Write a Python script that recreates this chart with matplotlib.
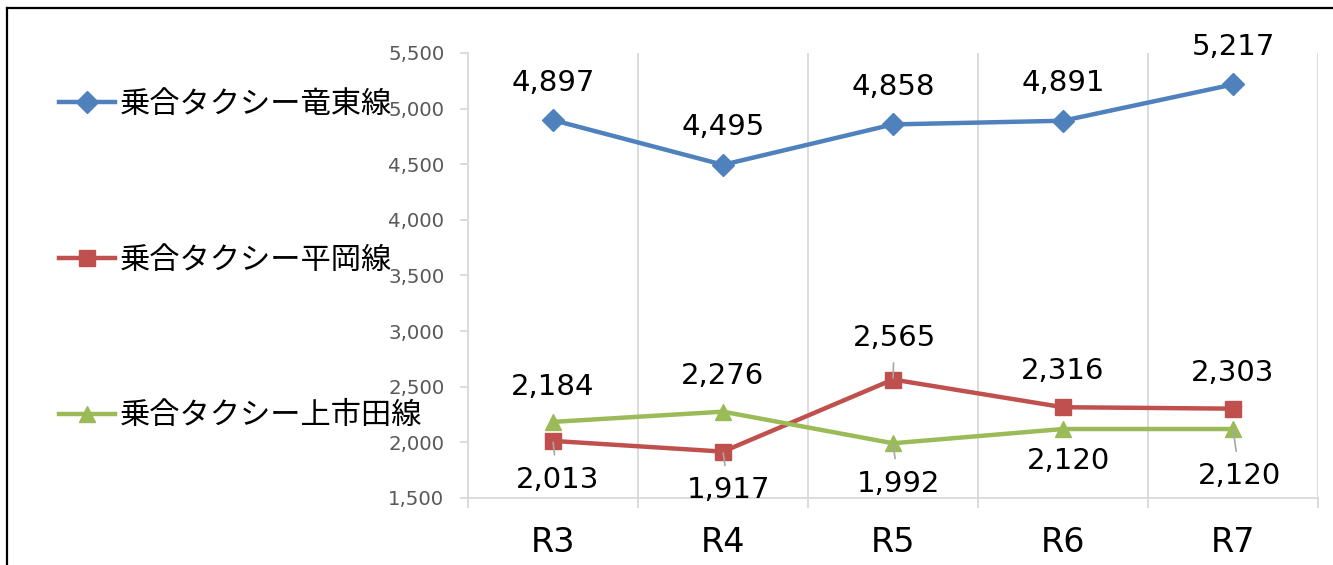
import matplotlib.pyplot as plt
from matplotlib.lines import Line2D
from matplotlib.ticker import FuncFormatter, FixedLocator

plt.rcParams['font.family'] = ['Noto Sans CJK JP', 'DejaVu Sans']

years = ['R3', 'R4', 'R5', 'R6', 'R7']
ryuto = [4897, 4495, 4858, 4891, 5217]
hiraoka = [2013, 1917, 2565, 2316, 2303]
kamiichida = [2184, 2276, 1992, 2120, 2120]
series_names = ['乗合タクシー竜東線', '乗合タクシー平岡線', '乗合タクシー上市田線']

colors = ['#4F81BD', '#C0504D', '#9BBB59']
markers = ['D', 's', '^']
msizes = [11, 11, 12]
# label offsets in points (dx, dy) and whether a leader line is drawn
offsets = [
    [(0, 27), (0, 27), (0, 27), (0, 27), (0, 27)],
    [(3, -28), (4, -28), (1, 30), (0, 26), (0, 26)],
    [(0, 25), (0, 26), (4, -29), (4, -23), (5, -34)],
]
leaders = [
    [False] * 5,
    [True, True, True, False, False],
    [False, False, True, False, True],
]
num_font = 'DejaVu Sans'

fig = plt.figure(figsize=(13.33, 5.65), dpi=100)
ax = fig.add_axes([0.3511, 0.1186, 0.6376, 0.7876])

x = list(range(len(years)))
handles = []
for i, vals in enumerate([ryuto, hiraoka, kamiichida]):
    h, = ax.plot(x, vals, color=colors[i], marker=markers[i], markersize=msizes[i],
                 linewidth=3.2, label=series_names[i], zorder=3)
    handles.append(h)
    for j, v in enumerate(vals):
        dx, dy = offsets[i][j]
        ap = None
        if leaders[i][j]:
            ap = dict(arrowstyle='-', color='#a6a6a6', lw=1.2, shrinkA=6, shrinkB=1)
        ax.annotate(f'{v:,}', (j, v), xytext=(dx, dy), textcoords='offset points',
                    ha='center', va='center', fontsize=21, color='black',
                    family=num_font, arrowprops=ap, zorder=4)

ax.set_xlim(-0.5, 4.5)
ax.set_ylim(1500, 5500)
ax.set_yticks(range(1500, 5501, 500))
ax.yaxis.set_major_formatter(FuncFormatter(lambda v, p: f'{int(v):,}'))
ax.set_xticks(x)
ax.set_xticklabels(years, fontsize=24, family=num_font)
for t in ax.get_yticklabels():
    t.set_family(num_font)
ax.xaxis.set_minor_locator(FixedLocator([-0.5, 0.5, 1.5, 2.5, 3.5, 4.5]))
ax.tick_params(axis='x', which='major', length=0, pad=20)
ax.tick_params(axis='x', which='minor', length=7, color='#d9d9d9', width=1.3)
ax.tick_params(axis='y', length=6, color='#d9d9d9', width=1.3, labelsize=14.2,
               labelcolor='#595959', pad=11)
ax.grid(axis='x', which='minor', color='#d9d9d9', linewidth=1.3)
for s in ['top', 'right']:
    ax.spines[s].set_visible(False)
for s in ['left', 'bottom']:
    ax.spines[s].set_color('#d9d9d9')
    ax.spines[s].set_linewidth(1.3)

fig.legend(handles=handles, loc='upper left', bbox_to_anchor=(0.044, 0.843),
           bbox_transform=fig.transFigure, frameon=False, fontsize=21.8,
           labelspacing=4.12, handlelength=1.85, handletextpad=0.18, borderpad=0,
           borderaxespad=0)

# outer frame (left and top edges)
fig.add_artist(Line2D([0.005, 0.005], [0, 0.986], color='black', lw=1.6,
                      transform=fig.transFigure))
fig.add_artist(Line2D([0.005, 1.0], [0.986, 0.986], color='black', lw=1.6,
                      transform=fig.transFigure))

fig.savefig('out.png', dpi=100)
